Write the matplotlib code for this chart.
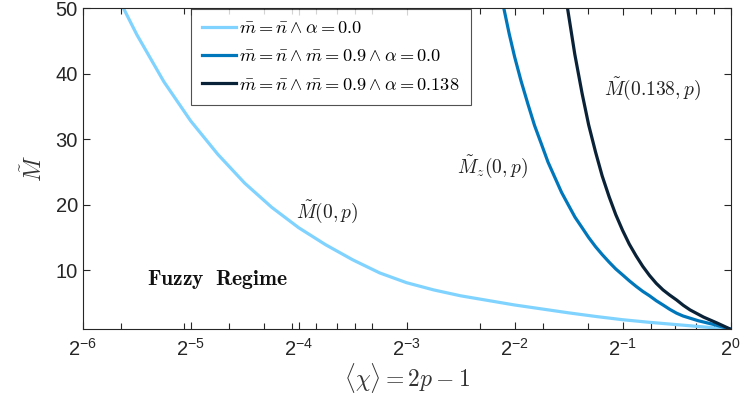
import matplotlib
matplotlib.use("Agg")
import matplotlib.pyplot as plt
import numpy as np

plt.rcParams['font.family'] = ['Liberation Sans', 'DejaVu Sans']
plt.rcParams['mathtext.fontset'] = 'cm'

# Data (chi = <chi> = 2p-1, M = M tilde)
chi_a = [0.0203, 0.0221, 0.0263, 0.03125, 0.0372, 0.0442, 0.0526, 0.0625, 0.0743,
         0.0884, 0.1051, 0.125, 0.1487, 0.1768, 0.2102, 0.25, 0.2973, 0.3536,
         0.4204, 0.5, 0.5946, 0.7071, 0.8409, 1.0]
M_a = [50, 46.0, 38.8, 32.8, 27.7, 23.3, 19.6, 16.5, 13.9,
       11.6, 9.6, 8.1, 7.0, 6.1, 5.4, 4.7, 4.1, 3.5,
       2.95, 2.45, 2.05, 1.7, 1.35, 1.0]

chi_b = [0.2333, 0.2415, 0.25, 0.2606, 0.2726, 0.2842, 0.2973, 0.3099, 0.3242,
         0.3379, 0.3536, 0.3685, 0.3856, 0.4022, 0.4204, 0.4387, 0.4585, 0.4786,
         0.5, 0.5219, 0.5453, 0.5692, 0.5946, 0.6208, 0.6484, 0.6771, 0.7071,
         0.7371, 0.8123, 0.9013, 1.0]
M_b = [50, 46.1, 42.6, 38.9, 35.3, 32.1, 29.2, 26.5, 24.1,
       21.9, 19.9, 18.1, 16.5, 15.0, 13.6, 12.4, 11.25, 10.2,
       9.3, 8.4, 7.55, 6.78, 6.1, 5.35, 4.7, 4.03, 3.45,
       3.02, 2.3, 1.7, 1.0]

chi_c = [0.3512, 0.3679, 0.3856, 0.4022, 0.4204, 0.4387, 0.4585, 0.4786, 0.5,
         0.5219, 0.5453, 0.5692, 0.5946, 0.6208, 0.6484, 0.6771, 0.7071, 0.7384,
         0.7711, 0.8409, 0.9170, 1.0]
M_c = [50, 43.0, 37.0, 32.2, 28.05, 24.4, 21.25, 18.5, 16.1,
       14.0, 12.2, 10.6, 9.2, 8.0, 7.0, 6.2, 5.47, 4.65,
       3.95, 2.85, 1.95, 1.0]

labels = [r'$\bar{m}=\bar{n}\wedge\alpha=0.0$',
          r'$\bar{m}=\bar{n}\wedge\bar{m}=0.9\wedge\alpha=0.0$',
          r'$\bar{m}=\bar{n}\wedge\bar{m}=0.9\wedge\alpha=0.138$']
colors = ['#80D3FF', '#0077BB', '#0A2238']

xticks_exp = [-6, -5, -4, -3, -2, -1, 0]
yticks = [10, 20, 30, 40, 50]

fig = plt.figure(figsize=(7.4, 4.03), dpi=100)
ax = fig.add_axes([0.1118, 0.1831, 0.8754, 0.7963])

for x, y, c, l in zip([chi_a, chi_b, chi_c], [M_a, M_b, M_c], colors, labels):
    ax.plot(x, y, color=c, lw=2.3, label=l, solid_joinstyle='round')

ax.set_xscale('log', base=2)
ax.set_xlim(2.0**-6, 1.0)
ax.set_ylim(1, 50)

ax.set_xticks([2.0**e for e in xticks_exp])
ax.set_xticklabels([r'$\mathregular{2^{%d}}$' % e for e in xticks_exp])
minors = [k * 10.0**n for n in (-2, -1) for k in range(1, 10)]
minors = [m for m in minors if 2.0**-6 < m < 1.0]
ax.set_xticks(minors, minor=True)
ax.set_xticklabels([], minor=True)
ax.set_yticks(yticks)

dark = '#262626'
for s in ax.spines.values():
    s.set_color(dark)
    s.set_linewidth(0.8)
ax.tick_params(which='both', direction='in', top=True, right=True,
               colors=dark, labelsize=14.5, length=5, width=0.8)
ax.tick_params(which='minor', length=4)
ax.tick_params(axis='x', pad=6)

ax.set_xlabel(r'$\langle\chi\rangle=2p-1$', fontsize=17, color='#333333', labelpad=1)
ax.set_ylabel(r'$\tilde{M}$', fontsize=17, color='#333333', labelpad=6)

ax.text(0.208, 0.156, r'$\mathbf{Fuzzy\ \ Regime}$', transform=ax.transAxes,
        fontsize=15.5, ha='center', va='center', color='#111111')
ax.text(0.378, 0.365, r'$\tilde{M}(0,p)$', transform=ax.transAxes,
        fontsize=14, ha='center', va='center', color='#222222')
ax.text(0.632, 0.505, r'$\tilde{M}_z(0,p)$', transform=ax.transAxes,
        fontsize=14, ha='center', va='center', color='#222222')
ax.text(0.880, 0.75, r'$\tilde{M}(0.138,p)$', transform=ax.transAxes,
        fontsize=14, ha='center', va='center', color='#222222')

leg = ax.legend(loc='upper left', bbox_to_anchor=(0.167, 0.998), fontsize=13.2,
                frameon=True, fancybox=False, borderaxespad=0, handlelength=1.85,
                labelspacing=0.62, handletextpad=0.2, borderpad=0.6)
leg.get_frame().set_edgecolor('#262626')
leg.get_frame().set_linewidth(0.8)

fig.savefig('out.png', dpi=100)
